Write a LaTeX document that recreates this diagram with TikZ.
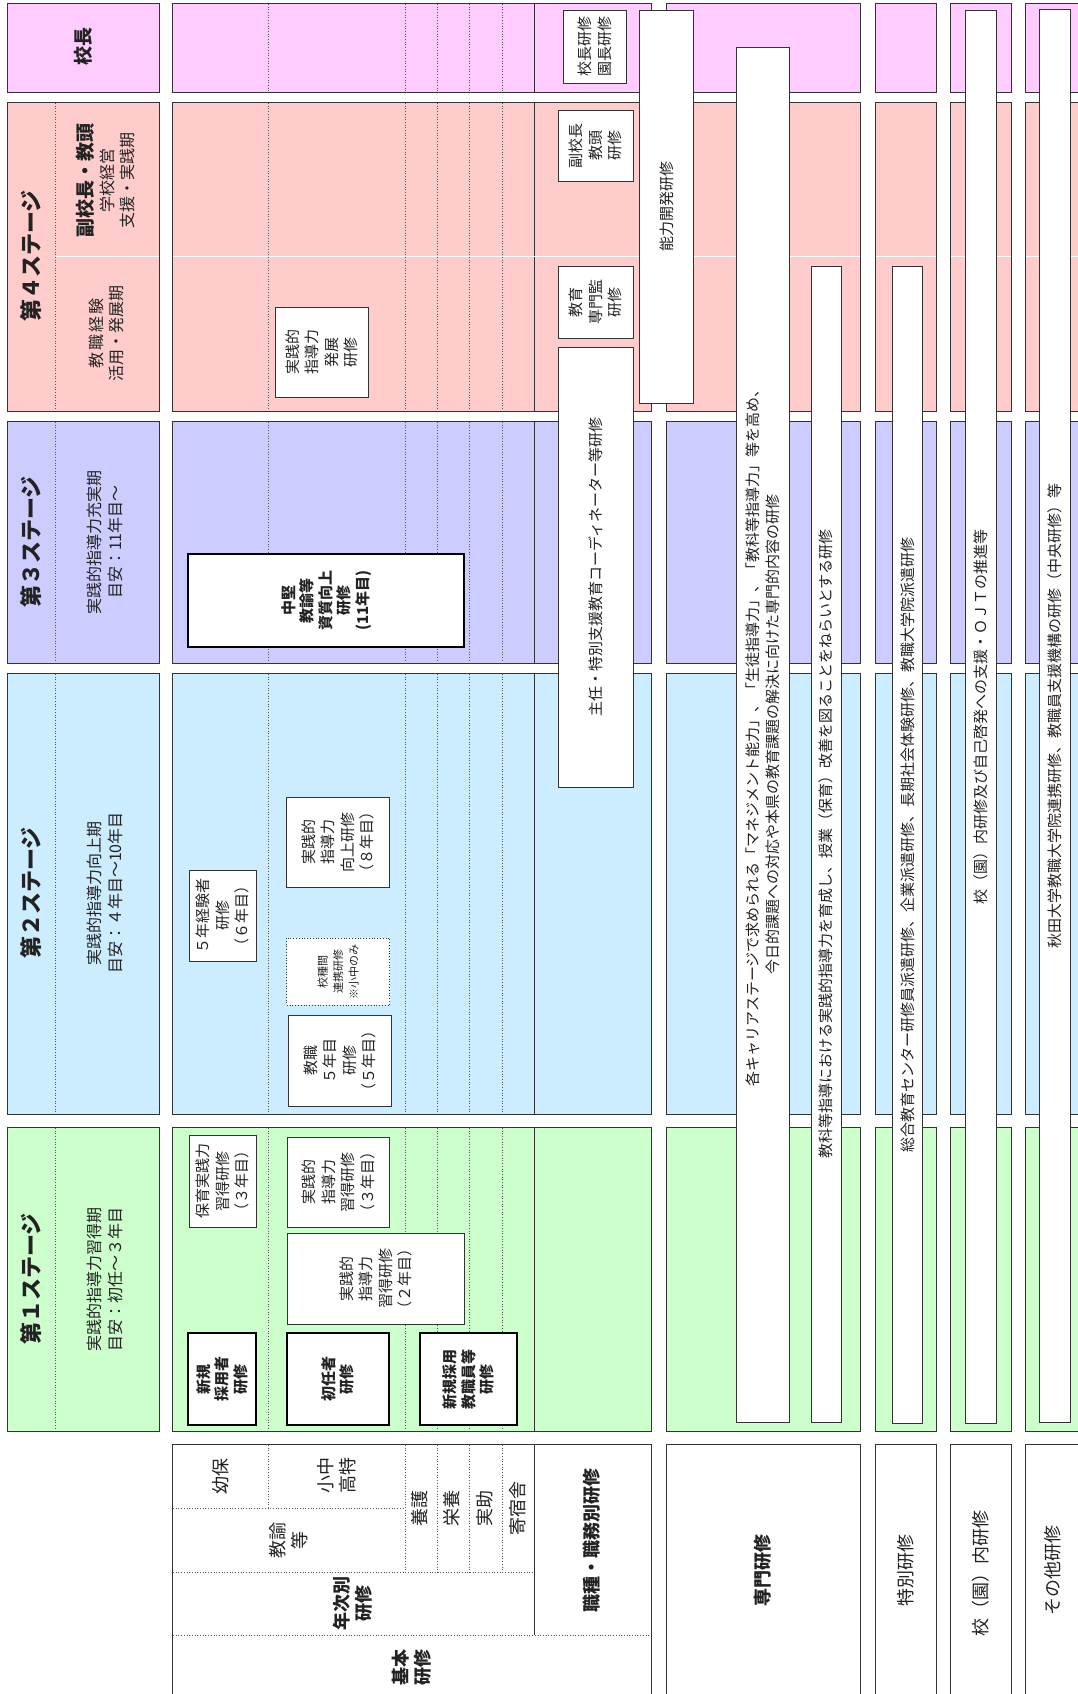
\documentclass[tikz,border=0pt]{standalone}
\usepackage{fontspec}
\setmainfont{Noto Sans CJK JP}
\definecolor{cK}{HTML}{FFCCFF}
\definecolor{cSa}{HTML}{FFCCCC}
\definecolor{cSb}{HTML}{CCCCFF}
\definecolor{cSc}{HTML}{CCECFF}
\definecolor{cSd}{HTML}{CCFFCC}
\definecolor{edge}{HTML}{333333}
\definecolor{dotc}{HTML}{555555}
\definecolor{txt}{HTML}{222222}
\newcommand{\fsz}[2]{\fontsize{#1}{#2}\selectfont}
\newcommand{\bx}[7]{%
  \pgfmathsetmacro{\bxcx}{(#2+#4)/2}%
  \pgfmathsetmacro{\bxcy}{(#3+#5)/2}%
  \pgfmathsetmacro{\bxw}{#5-#3}%
  \pgfmathsetmacro{\bxh}{#4-#2}%
  \node[#6, rotate=90, minimum width=\bxw pt, minimum height=\bxh pt] (#1) at (\bxcx,\bxcy) {#7};}
\tikzset{
 cell/.style={draw=edge, line width=0.8pt},
 dotl/.style={draw=dotc, line width=0.7pt, dotted},
 wl/.style={draw=white, line width=0.9pt},
 wbox/.style={draw=edge, fill=white, line width=0.8pt, inner sep=0pt, outer sep=0pt, align=center, text=txt, font=\fsz{15}{19.5}},
 thk/.style={wbox, draw=black, line width=2pt, font=\fsz{15}{18.5}\bfseries},
 dbox/.style={wbox, dotted, font=\fsz{11}{15.5}},
 lab/.style={rotate=90, align=center, inner sep=0pt, text=txt},
 ttl/.style={lab, font=\fsz{22}{26}\bfseries},
 dsc/.style={lab, font=\fsz{16}{20.5}},
 hdr/.style={lab, font=\fsz{18}{22}},
 hdrb/.style={lab, font=\fsz{18}{22}\bfseries},
}
\begin{document}
\begin{tikzpicture}[x=1pt,y=-1pt]
\useasboundingbox (0,0) rectangle (1078,1694);
\clip (0,0) rectangle (1078,1694);
\fill[white] (0,0) rectangle (1078,1694);
% ---- row backgrounds ----
\foreach \ya/\yb/\cc in {3/92/cK,102/411/cSa,421/663/cSb,673/1114/cSc,1127/1431/cSd}{
  \foreach \xa/\xb in {172.2/651.5,665.9/860.8,875.2/936.3,950.7/1011.1,1025.5/1086.5}{
    \draw[cell, fill=\cc] (\xa,\ya) rectangle (\xb,\yb);
  }
  \foreach \xx in {268.6,405,437.4,469.7,502.1}{\draw[dotl] (\xx,\ya+1) -- (\xx,\yb-1);}
  \draw[cell] (534.5,\ya) -- (534.5,\yb);
}
% left stage boxes
\draw[cell, fill=cK] (7.6,3) rectangle (159.1,92);
\foreach \ya/\yb/\cc in {102/411/cSa,421/663/cSb,673/1114/cSc,1127/1431/cSd}{
  \draw[cell, fill=\cc] (7.6,\ya) rectangle (159.1,\yb);
  \draw[dotl] (55.1,\ya+1) -- (55.1,\yb-1);
}
% white separators in stage 4
\draw[wl] (55.6,256) -- (158.6,256);
\foreach \xa/\xb in {172.2/651.5,665.9/860.8,875.2/936.3,950.7/1011.1,1025.5/1086.5}{\draw[wl] (\xa+0.5,256) -- (\xb-0.5,256);}
% header blocks
\foreach \xa/\xb in {172.2/651.5,665.9/860.8,875.2/936.3,950.7/1011.1,1025.5/1086.5}{
  \draw[cell, fill=white] (\xa,1444) rectangle (\xb,1720);
}
\draw[cell] (534.5,1444) -- (534.5,1635);
\draw[dotl] (268.6,1445) -- (268.6,1508);
\foreach \xx in {405,437.4,469.7,502.1}{\draw[dotl] (\xx,1445) -- (\xx,1572);}
\draw[dotl] (173,1508) -- (405,1508);
\draw[dotl] (173,1572) -- (534.5,1572);
\draw[dotl] (173,1635) -- (650.5,1635);
% ---- left labels ----
\node[lab, font=\fsz{19}{23}\bfseries] (kocho) at (83,47) {校長};
\node[ttl] (st4) at (31,256) {第４ステージ};
\node[ttl] (st3) at (31,542) {第３ステージ};
\node[ttl] (st2) at (31,893) {第２ステージ};
\node[ttl] (st1) at (31,1279) {第１ステージ};
\node[dsc] (d4a) at (106,180) {{\fsz{19}{24}\bfseries 副校長・教頭}\\学校経営\\支援・実践期};
\node[dsc] (d4b) at (106.5,333) {教\hspace{2pt}職\hspace{2pt}経\hspace{2pt}験\\活用・発展期};
\node[dsc] (d3) at (105,542) {実践的指導力充実期\\目安：11年目～};
\node[dsc] (d2) at (105,893) {実践的指導力向上期\\目安：４年目～10年目};
\node[dsc] (d1) at (105,1279) {実践的指導力習得期\\目安：初任～３年目};
% ---- header labels ----
\node[hdr] (h1) at (220.4,1476) {幼保};
\node[hdr] (h2) at (337,1475) {小中\\高特};
\node[hdr] (h3) at (289,1540) {教諭\\等};
\node[hdr] (h4) at (420,1508) {養護};
\node[hdr] (h5) at (452,1508) {栄養};
\node[hdr] (h6) at (485,1508) {実助};
\node[hdr] (h7) at (518,1508) {寄宿舎};
\node[hdrb] (h8) at (353,1603) {年次別\\研修};
\node[hdrb] (h9) at (412,1667) {基本\\研修};
\node[hdrb] (h10) at (592,1540) {職種・職務別研修};
\node[hdrb] (h11) at (763,1570) {専門研修};
\node[hdr] (h12) at (905.5,1570) {特別研修};
\node[hdr] (h13) at (981,1573) {校（園）内研修};
\node[hdr] (h14) at (1053,1570) {その他研修};
% ---- boxes: stage 1 ----
\bx{bhoiku}{189.4}{1135}{255.9}{1227}{wbox}{保育実践力\\習得研修\\（３年目）}
\bx{bshu3}{287.6}{1137}{389.5}{1227}{wbox}{実践的\\指導力\\習得研修\\（３年目）}
\bx{bshu2}{287.6}{1233}{464.2}{1324}{wbox}{実践的\\指導力\\習得研修\\（２年目）}
\bx{bshinki}{188.4}{1333}{255.9}{1425}{thk}{新規\\採用者\\研修}
\bx{bshonin}{286.5}{1333}{389.2}{1425}{thk}{初任者\\研修}
\bx{bshkyo}{420.2}{1333}{516.6}{1425}{thk}{新規採用\\教職員等\\研修}
% ---- stage 2 ----
\bx{bkojo}{286.5}{797}{389.2}{887}{wbox}{実践的\\指導力\\向上研修\\（８年目）}
\bx{bgonen}{189.4}{870}{255.9}{961}{wbox}{５年経験者\\研修\\（６年目）}
\bx{bkoshu}{286.5}{938}{389.8}{1005}{dbox}{校種間\\連携研修\\※小中のみ}
\bx{bkyo5}{288.6}{1015}{390.9}{1106}{wbox}{教職\\５年目\\研修\\（５年目）}
% ---- stage 3 ----
\bx{bchuken}{188.4}{554}{463.9}{647}{thk}{中堅\\教諭等\\資質向上\\研修\\(11年目)}
% ---- stage 4 ----
\bx{bhatten}{275.5}{307}{368.5}{397}{wbox}{実践的\\指導力\\発展\\研修}
\bx{bkocho}{563.3}{10}{626.5}{83}{wbox}{校長研修\\園長研修}
\bx{bfuku}{558.2}{110}{633.3}{181}{wbox}{副校長\\教頭\\研修}
\bx{bkanri}{558.2}{266}{633.3}{338}{wbox}{教育\\専門監\\研修}
\bx{bshunin}{558.2}{347}{633.3}{787}{wbox}{主任・特別支援教育コーディネーター等研修}
\bx{bnoryoku}{639.5}{10}{693.4}{403}{wbox}{能力開発研修}
% ---- long columns ----
\bx{bsenA}{736.3}{47}{789.4}{1422}{wbox, font=\fsz{15}{20.5}}{各キャリアステージで求められる「マネジメント能力」、「生徒指導力」、「教科等指導力」等を高め、\\今日的課題への対応や本県の教育課題の解決に向けた専門的内容の研修}
\bx{bsenB}{811}{266}{840.9}{1422}{wbox}{教科等指導における実践的指導力を育成し、授業（保育）改善を図ることをねらいとする研修}
\bx{btoku}{892.4}{266}{922.6}{1423}{wbox}{総合教育センター研修員派遣研修、企業派遣研修、長期社会体験研修、教職大学院派遣研修}
\bx{bkonai}{965.5}{10}{996.3}{1423}{wbox}{校（園）内研修及び自己啓発への支援・ＯＪＴの推進等}
\bx{bsonota}{1039.2}{9}{1070.1}{1422}{wbox}{秋田大学教職大学院連携研修、教職員支援機構の研修（中央研修）等}
\end{tikzpicture}
\end{document}
